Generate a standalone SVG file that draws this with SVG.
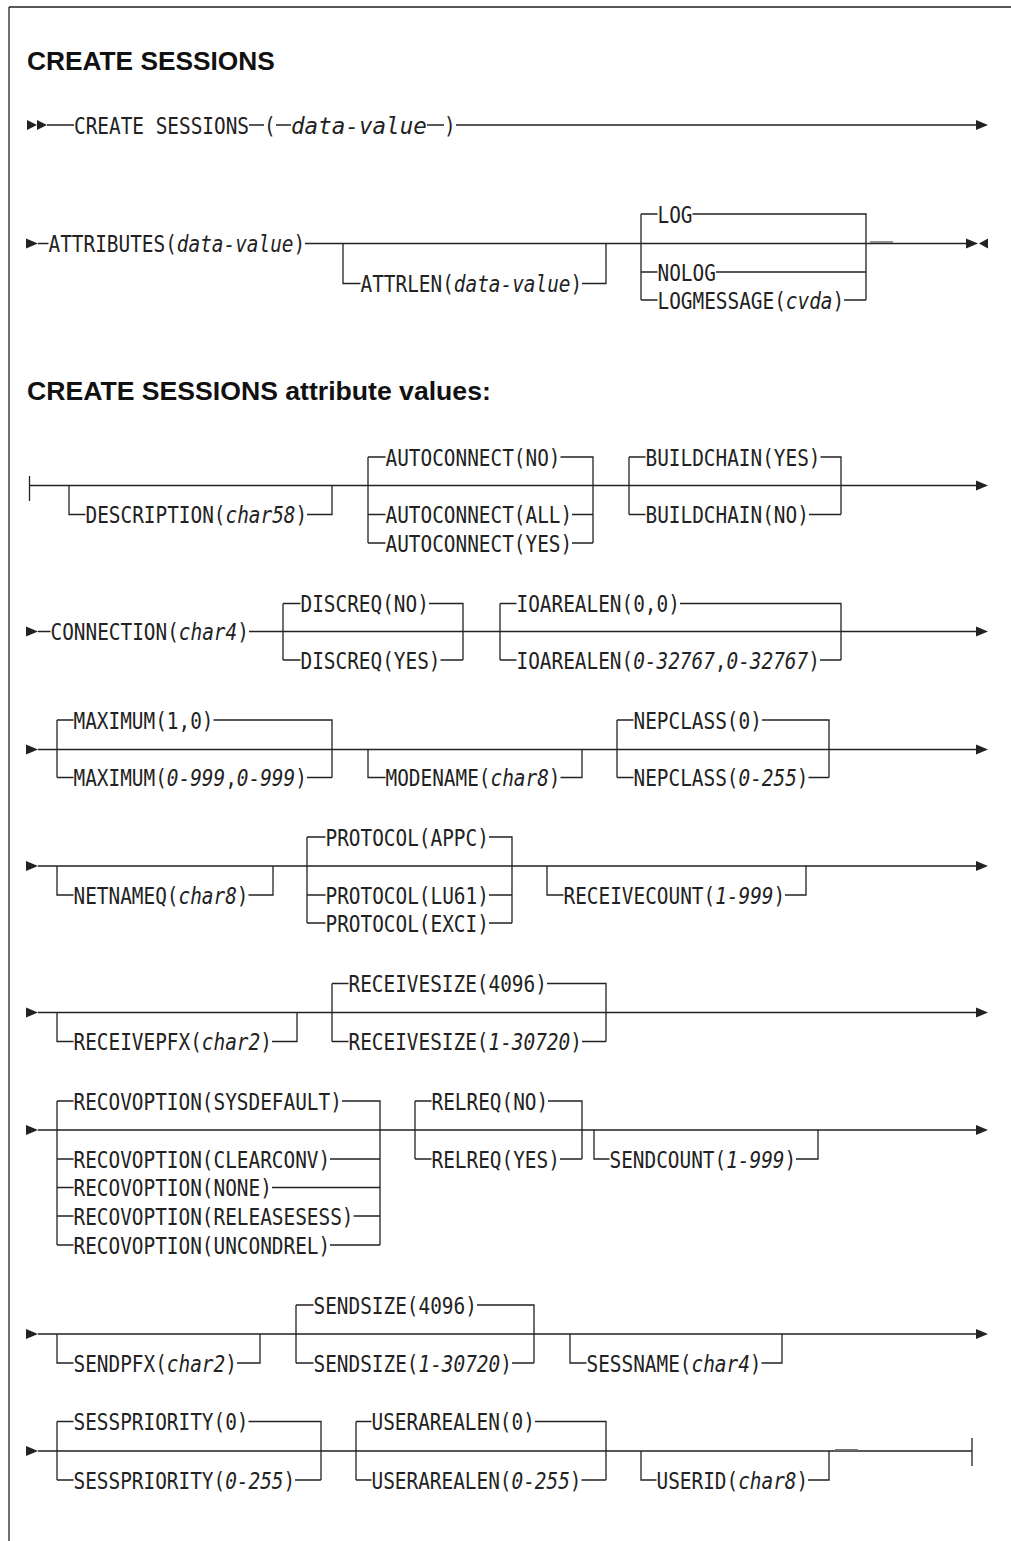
<svg xmlns="http://www.w3.org/2000/svg" width="1011" height="1541" viewBox="0 0 1011 1541">
<style>
.ln{stroke:#222;stroke-width:1.3;fill:none}
.dash{stroke:#777;stroke-width:1.6;fill:none}
.ar{fill:#222}
.t{font-family:"DejaVu Sans Mono",monospace;font-size:23.5px;fill:#222}
.i{font-style:italic}
.h{font-family:"Liberation Sans",Arial,sans-serif;font-weight:bold;font-size:25px;fill:#111}
</style>
<rect width="1011" height="1541" fill="#fff"/>
<g id="frame"><path class="ln" d="M9,7H1011M9,7V1541"/></g>
<g id="headings">
<text id="title" class="h" transform="translate(27,70) scale(1.052,1)">CREATE SESSIONS</text>
<text id="subtitle" class="h" transform="translate(27,400) scale(1.065,1)">CREATE SESSIONS attribute values:</text>
</g>
<g id="connectors">
<path class="ln" d="M47,125H74M249,125H264M276,125H291M427,125H444M456,125H976"/>
<path class="ln" d="M38,243.5H48.5M305,243.5H966M343,243.5V283.5H360.5M582,283.5H606V243.5M641,214V300M641,214H657.5M692.5,214H866V300M641,272H657.5M716,272H866M641,300H657.5M844,300H866"/>
<path class="dash" d="M870,242H893"/>
<path class="ln" d="M29.5,476V501M29.5,485.5H976M69,485.5V514.5H85.5M307,514.5H332V485.5M368,457V543M368,457H385.5M560.5,457H593V543M368,514.5H385.5M572,514.5H593M368,543H385.5M572,543H593M629,457V514.5M629,457H645.5M820.5,457H841V514.5M629,514.5H645.5M809,514.5H841"/>
<path class="ln" d="M38,631.5H50.5M249,631.5H976M283,603.5V660M283,603.5H300.5M429,603.5H463V660M283,660H300.5M440.5,660H463M500,603.5V660M500,603.5H516.5M680,603.5H841V660M500,660H516.5M820,660H841"/>
<path class="ln" d="M38,749.5H976M57,720V777.5M57,720H73.5M213.5,720H332V777.5M57,777.5H73.5M307,777.5H332M368,749.5V777.5H385.5M560.5,777.5H582V749.5M617,720V777.5M617,720H633.5M762,720H829V777.5M617,777.5H633.5M808.5,777.5H829"/>
<path class="ln" d="M38,866H976M57,866V895H73.5M248.5,895H273V866M307,837V923M307,837H325.5M489,837H512V923M307,895H325.5M489,895H512M307,923H325.5M489,923H512M547,866V895H563.5M785,895H806V866"/>
<path class="ln" d="M38,1012.5H976M57,1012.5V1041.5H73.5M272,1041.5H297V1012.5M332,983.5V1041.5M332,983.5H348.5M547,983.5H606V1041.5M332,1041.5H348.5M582,1041.5H606"/>
<path class="ln" d="M38,1130H976M57,1101V1245M57,1101H73.5M57,1159H73.5M57,1187.5H73.5M57,1216H73.5M57,1245H73.5M342,1101H380V1245M330,1159H380M272,1187.5H380M353.6,1216H380M330,1245H380M415,1101V1159M415,1101H431.5M548,1101H582V1159M415,1159H431.5M560,1159H582M594,1130V1159H609.5M796,1159H818V1130"/>
<path class="ln" d="M38,1334H976M57,1334V1363H73.5M237,1363H260V1334M296,1305V1363M296,1305H313.5M477,1305H534V1363M296,1363H313.5M512,1363H534M570,1334V1363H586.5M761.5,1363H782V1334"/>
<path class="ln" d="M38,1451H972M972,1438V1466M57,1421.5V1480M57,1421.5H73.5M248.5,1421.5H321V1480M57,1480H73.5M295,1480H321M356,1421.5V1480M356,1421.5H371.5M535,1421.5H606V1480M356,1480H371.5M581.5,1480H606M641,1451V1480H656.5M808,1480H829V1451"/>
<path class="dash" d="M835,1449.8H858"/>
</g>
<g id="arrows">
<polygon class="ar" points="27,120 37,125 27,130"/>
<polygon class="ar" points="37,120 47,125 37,130"/>
<polygon class="ar" points="976,120 988,125 976,130"/>
<polygon class="ar" points="26,238.5 38,243.5 26,248.5"/>
<polygon class="ar" points="966,238.5 978,243.5 966,248.5"/>
<polygon class="ar" points="988,238.5 979,243.5 988,248.5"/>
<polygon class="ar" points="976,480.5 988,485.5 976,490.5"/>
<polygon class="ar" points="26,626.5 38,631.5 26,636.5"/>
<polygon class="ar" points="976,626.5 988,631.5 976,636.5"/>
<polygon class="ar" points="26,744.5 38,749.5 26,754.5"/>
<polygon class="ar" points="976,744.5 988,749.5 976,754.5"/>
<polygon class="ar" points="26,861 38,866 26,871"/>
<polygon class="ar" points="976,861 988,866 976,871"/>
<polygon class="ar" points="26,1007.5 38,1012.5 26,1017.5"/>
<polygon class="ar" points="976,1007.5 988,1012.5 976,1017.5"/>
<polygon class="ar" points="26,1125 38,1130 26,1135"/>
<polygon class="ar" points="976,1125 988,1130 976,1135"/>
<polygon class="ar" points="26,1329 38,1334 26,1339"/>
<polygon class="ar" points="976,1329 988,1334 976,1339"/>
<polygon class="ar" points="26,1446 38,1451 26,1456"/>
</g>
<g id="row1">
<text id="n-create" class="t" transform="translate(74,133.5) scale(.825,1)">CREATE SESSIONS</text>
<text id="n-lparen" class="t" transform="translate(264,133.5) scale(.825,1)">(</text>
<text id="n-datavalue" class="t i" transform="translate(291,133.5) scale(.961,1)">data-value</text>
<text id="n-rparen" class="t" transform="translate(444,133.5) scale(.825,1)">)</text>
</g>
<g id="row2">
<text id="n-attributes" class="t" transform="translate(48.5,252) scale(.825,1)">ATTRIBUTES(<tspan class="i">data-value</tspan>)</text>
<text id="n-attrlen" class="t" transform="translate(360.5,292) scale(.825,1)">ATTRLEN(<tspan class="i">data-value</tspan>)</text>
<text id="n-log" class="t" transform="translate(657.5,222.5) scale(.825,1)">LOG</text>
<text id="n-nolog" class="t" transform="translate(657.5,280.5) scale(.825,1)">NOLOG</text>
<text id="n-logmessage" class="t" transform="translate(657.5,308.5) scale(.825,1)">LOGMESSAGE(<tspan class="i">cvda</tspan>)</text>
</g>
<g id="rowA">
<text id="n-description" class="t" transform="translate(85.5,523) scale(.825,1)">DESCRIPTION(<tspan class="i">char58</tspan>)</text>
<text id="n-auto-no" class="t" transform="translate(385.5,465.5) scale(.825,1)">AUTOCONNECT(NO)</text>
<text id="n-auto-all" class="t" transform="translate(385.5,523) scale(.825,1)">AUTOCONNECT(ALL)</text>
<text id="n-auto-yes" class="t" transform="translate(385.5,551.5) scale(.825,1)">AUTOCONNECT(YES)</text>
<text id="n-build-yes" class="t" transform="translate(645.5,465.5) scale(.825,1)">BUILDCHAIN(YES)</text>
<text id="n-build-no" class="t" transform="translate(645.5,523) scale(.825,1)">BUILDCHAIN(NO)</text>
</g>
<g id="rowB">
<text id="n-connection" class="t" transform="translate(50.5,640) scale(.825,1)">CONNECTION(<tspan class="i">char4</tspan>)</text>
<text id="n-discreq-no" class="t" transform="translate(300.5,612) scale(.825,1)">DISCREQ(NO)</text>
<text id="n-discreq-yes" class="t" transform="translate(300.5,668.5) scale(.825,1)">DISCREQ(YES)</text>
<text id="n-ioarealen-def" class="t" transform="translate(516.5,612) scale(.825,1)">IOAREALEN(0,0)</text>
<text id="n-ioarealen" class="t" transform="translate(516.5,668.5) scale(.825,1)">IOAREALEN(<tspan class="i">0-32767</tspan>,<tspan class="i">0-32767</tspan>)</text>
</g>
<g id="rowC">
<text id="n-max-def" class="t" transform="translate(73.5,728.5) scale(.825,1)">MAXIMUM(1,0)</text>
<text id="n-max" class="t" transform="translate(73.5,786) scale(.825,1)">MAXIMUM(<tspan class="i">0-999</tspan>,<tspan class="i">0-999</tspan>)</text>
<text id="n-modename" class="t" transform="translate(385.5,786) scale(.825,1)">MODENAME(<tspan class="i">char8</tspan>)</text>
<text id="n-nep-def" class="t" transform="translate(633.5,728.5) scale(.825,1)">NEPCLASS(0)</text>
<text id="n-nep" class="t" transform="translate(633.5,786) scale(.825,1)">NEPCLASS(<tspan class="i">0-255</tspan>)</text>
</g>
<g id="rowD">
<text id="n-netnameq" class="t" transform="translate(73.5,903.5) scale(.825,1)">NETNAMEQ(<tspan class="i">char8</tspan>)</text>
<text id="n-prot-appc" class="t" transform="translate(325.5,845.5) scale(.825,1)">PROTOCOL(APPC)</text>
<text id="n-prot-lu61" class="t" transform="translate(325.5,903.5) scale(.825,1)">PROTOCOL(LU61)</text>
<text id="n-prot-exci" class="t" transform="translate(325.5,931.5) scale(.825,1)">PROTOCOL(EXCI)</text>
<text id="n-receivecount" class="t" transform="translate(563.5,903.5) scale(.825,1)">RECEIVECOUNT(<tspan class="i">1-999</tspan>)</text>
</g>
<g id="rowE">
<text id="n-receivepfx" class="t" transform="translate(73.5,1050) scale(.825,1)">RECEIVEPFX(<tspan class="i">char2</tspan>)</text>
<text id="n-rsize-def" class="t" transform="translate(348.5,992) scale(.825,1)">RECEIVESIZE(4096)</text>
<text id="n-rsize" class="t" transform="translate(348.5,1050) scale(.825,1)">RECEIVESIZE(<tspan class="i">1-30720</tspan>)</text>
</g>
<g id="rowF">
<text id="n-recov-sys" class="t" transform="translate(73.5,1109.5) scale(.825,1)">RECOVOPTION(SYSDEFAULT)</text>
<text id="n-recov-clear" class="t" transform="translate(73.5,1167.5) scale(.825,1)">RECOVOPTION(CLEARCONV)</text>
<text id="n-recov-none" class="t" transform="translate(73.5,1196) scale(.825,1)">RECOVOPTION(NONE)</text>
<text id="n-recov-rel" class="t" transform="translate(73.5,1224.5) scale(.825,1)">RECOVOPTION(RELEASESESS)</text>
<text id="n-recov-unc" class="t" transform="translate(73.5,1253.5) scale(.825,1)">RECOVOPTION(UNCONDREL)</text>
<text id="n-relreq-no" class="t" transform="translate(431.5,1109.5) scale(.825,1)">RELREQ(NO)</text>
<text id="n-relreq-yes" class="t" transform="translate(431.5,1167.5) scale(.825,1)">RELREQ(YES)</text>
<text id="n-sendcount" class="t" transform="translate(609.5,1167.5) scale(.825,1)">SENDCOUNT(<tspan class="i">1-999</tspan>)</text>
</g>
<g id="rowG">
<text id="n-sendpfx" class="t" transform="translate(73.5,1371.5) scale(.825,1)">SENDPFX(<tspan class="i">char2</tspan>)</text>
<text id="n-ssize-def" class="t" transform="translate(313.5,1313.5) scale(.825,1)">SENDSIZE(4096)</text>
<text id="n-ssize" class="t" transform="translate(313.5,1371.5) scale(.825,1)">SENDSIZE(<tspan class="i">1-30720</tspan>)</text>
<text id="n-sessname" class="t" transform="translate(586.5,1371.5) scale(.825,1)">SESSNAME(<tspan class="i">char4</tspan>)</text>
</g>
<g id="rowH">
<text id="n-sprio-def" class="t" transform="translate(73.5,1430) scale(.825,1)">SESSPRIORITY(0)</text>
<text id="n-sprio" class="t" transform="translate(73.5,1488.5) scale(.825,1)">SESSPRIORITY(<tspan class="i">0-255</tspan>)</text>
<text id="n-ual-def" class="t" transform="translate(371.5,1430) scale(.825,1)">USERAREALEN(0)</text>
<text id="n-ual" class="t" transform="translate(371.5,1488.5) scale(.825,1)">USERAREALEN(<tspan class="i">0-255</tspan>)</text>
<text id="n-userid" class="t" transform="translate(656.5,1488.5) scale(.825,1)">USERID(<tspan class="i">char8</tspan>)</text>
</g>
</svg>
